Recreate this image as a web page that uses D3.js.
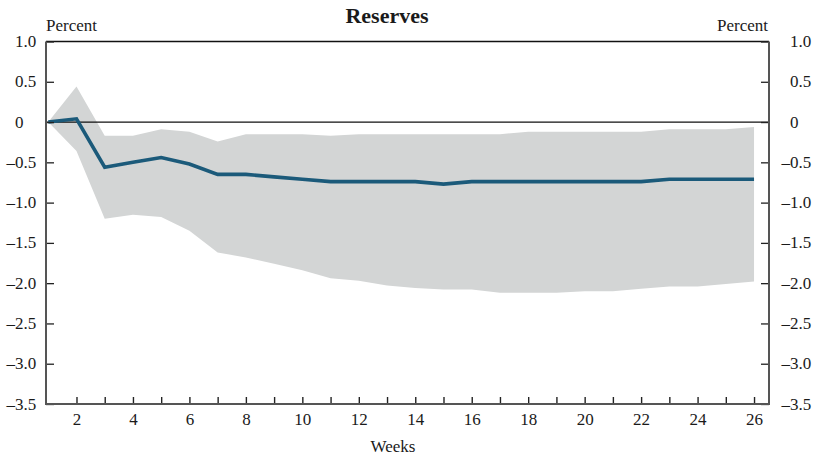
<!DOCTYPE html>
<html>
<head>
<meta charset="utf-8">
<script src="https://cdn.jsdelivr.net/npm/d3@7/dist/d3.min.js"></script>
<style>
  html, body { margin: 0; padding: 0; background: #fff; }
  svg { display: block; }
</style>
</head>
<body>
<svg id="chart" width="813" height="461"></svg>
<script>
// Weekly response of reserves, percent, with confidence band
const weeks = [1, 2, 3, 4, 5, 6, 7, 8, 9, 10, 11, 12, 13, 14, 15, 16, 17, 18, 19, 20, 21, 22, 23, 24, 25, 26];
const response = [0, 0.04, -0.56, -0.50, -0.44, -0.52, -0.65, -0.65, -0.68, -0.71, -0.74, -0.74, -0.74, -0.74, -0.77, -0.74, -0.74, -0.74, -0.74, -0.74, -0.74, -0.74, -0.71, -0.71, -0.71, -0.71];
const upperBand = [0, 0.44, -0.17, -0.17, -0.09, -0.12, -0.24, -0.15, -0.15, -0.15, -0.17, -0.15, -0.15, -0.15, -0.15, -0.15, -0.15, -0.12, -0.12, -0.12, -0.12, -0.12, -0.09, -0.09, -0.09, -0.06];
const lowerBand = [0, -0.36, -1.20, -1.15, -1.18, -1.35, -1.62, -1.68, -1.76, -1.84, -1.94, -1.97, -2.03, -2.06, -2.08, -2.08, -2.12, -2.12, -2.12, -2.10, -2.10, -2.07, -2.04, -2.04, -2.01, -1.98];
const yTicks = [1.0, 0.5, 0, -0.5, -1.0, -1.5, -2.0, -2.5, -3.0, -3.5];
const xTickLabels = [2, 4, 6, 8, 10, 12, 14, 16, 18, 20, 22, 24, 26];

const serif = "'Liberation Serif', 'DejaVu Serif', serif";
const svg = d3.select("#chart");
const plotLeft = 46, plotRight = 769, plotTop = 41.5, plotBottom = 404;

const x = d3.scaleLinear().domain([0.92, 26.53]).range([plotLeft, plotRight]);
const y = d3.scaleLinear().domain([-3.5, 1]).range([plotBottom, plotTop]);

const rows = weeks.map((w, i) => ({ w, v: response[i], hi: upperBand[i], lo: lowerBand[i] }));

// confidence band
svg.append("path")
  .datum(rows)
  .attr("fill", "#d3d5d5")
  .attr("d", d3.area().x(d => x(d.w)).y0(d => y(d.lo)).y1(d => y(d.hi)));

// zero line
svg.append("line")
  .attr("x1", plotLeft).attr("x2", plotRight)
  .attr("y1", y(0)).attr("y2", y(0))
  .attr("stroke", "#111").attr("stroke-width", 1.2);

// top frame line
svg.append("line")
  .attr("x1", plotLeft).attr("x2", plotRight)
  .attr("y1", plotTop).attr("y2", plotTop)
  .attr("stroke", "#111").attr("stroke-width", 1.4);

// response line
svg.append("path")
  .datum(rows)
  .attr("fill", "none")
  .attr("stroke", "#1b5a7a")
  .attr("stroke-width", 3.6)
  .attr("stroke-linejoin", "miter")
  .attr("d", d3.line().x(d => x(d.w)).y(d => y(d.v)));

const axisColor = "#555";

// bottom axis: ticks every week pointing inward, labels on even weeks
const xAxis = d3.axisBottom(x)
  .tickValues(weeks.slice(1))
  .tickSizeInner(-7).tickSizeOuter(0)
  .tickFormat(d => xTickLabels.includes(d) ? d : "");
const gx = svg.append("g").attr("transform", `translate(0,${plotBottom})`).call(xAxis);
gx.select(".domain").remove();
gx.selectAll(".tick line").attr("stroke", "#222").attr("stroke-width", 1.4);
gx.selectAll(".tick text").attr("y", 21).attr("dy", 0).style("font-size", "17px");

// left and right axes
const yLeft = d3.axisLeft(y).tickValues(yTicks).tickSizeInner(-8).tickSizeOuter(0).tickFormat("");
const gyl = svg.append("g").attr("transform", `translate(${plotLeft},0)`).call(yLeft);
gyl.select(".domain").remove();
gyl.selectAll(".tick line").attr("stroke", "#222").attr("stroke-width", 1.3);

const yRight = d3.axisRight(y).tickValues(yTicks).tickSizeInner(-8).tickSizeOuter(0).tickFormat("");
const gyr = svg.append("g").attr("transform", `translate(${plotRight},0)`).call(yRight);
gyr.select(".domain").remove();
gyr.selectAll(".tick line").attr("stroke", "#222").attr("stroke-width", 1.3);

// axis frame lines (left, right, bottom)
svg.append("path")
  .attr("d", `M${plotLeft},${plotTop}V${plotBottom}H${plotRight}V${plotTop}`)
  .attr("fill", "none").attr("stroke", axisColor).attr("stroke-width", 2);

// y tick labels: digits aligned, minus hanging to the left
const fmt = v => v === 0 ? "0" : (v < 0 ? "\u2013" : "") + Math.abs(v).toFixed(1);
const probe = svg.append("text").style("font-family", serif).style("font-size", "17px").text("\u2013");
const dashW = probe.node().getComputedTextLength();
probe.remove();

[15, 790].forEach(x0 => {
  svg.append("g").selectAll("text")
    .data(yTicks).join("text")
    .attr("x", d => d < 0 ? x0 - dashW : x0)
    .attr("y", d => y(d) + 5.5)
    .style("font-size", "17px")
    .text(fmt);
});

// unit labels
svg.append("text").attr("x", plotLeft).attr("y", 31).style("font-size", "17px").text("Percent");
svg.append("text").attr("x", plotRight - 1).attr("y", 31).attr("text-anchor", "end").style("font-size", "17px").text("Percent");

// title
svg.append("text").attr("x", 387).attr("y", 23).attr("text-anchor", "middle")
  .style("font-size", "22px").style("font-weight", "bold").text("Reserves");

// x axis title
svg.append("text").attr("x", 393).attr("y", 452).attr("text-anchor", "middle")
  .style("font-size", "17px").text("Weeks");

// shared typography
svg.selectAll("text").style("font-family", serif).attr("fill", "#1a1a1a");
</script>
</body>
</html>
